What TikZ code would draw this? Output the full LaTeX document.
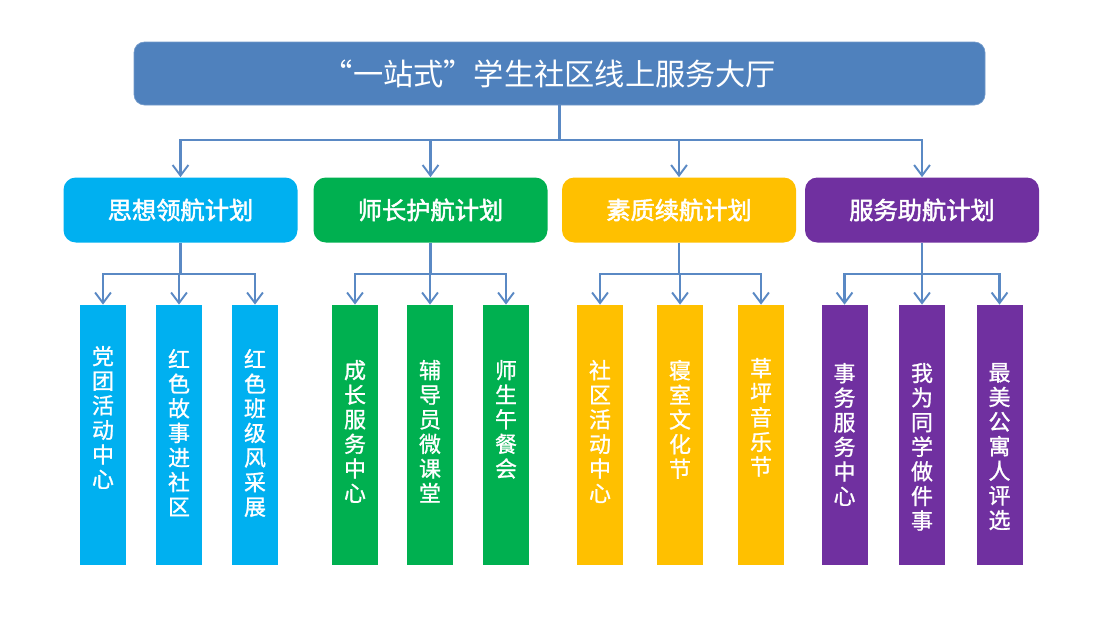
\documentclass[tikz,border=0pt]{standalone}
\usepackage{fontspec}
\newfontfamily\cjk[AutoFakeBold=2]{Noto Sans CJK SC}
\newfontfamily\cjkleaf[AutoFakeBold=1]{Noto Sans CJK SC}
\definecolor{hallBlue}{HTML}{4F81BD}
\definecolor{lineBlue}{HTML}{5A89C4}
\definecolor{planSky}{HTML}{00B0F0}
\definecolor{planGreen}{HTML}{00B050}
\definecolor{planGold}{HTML}{FFC000}
\definecolor{planPurple}{HTML}{7030A0}
\usepackage{tikz}
\usetikzlibrary{positioning,arrows.meta}

\begin{document}
\begin{tikzpicture}[
  hall/.style={fill=hallBlue, draw=hallBlue!80, rounded corners=6pt, minimum width=17.02cm, minimum height=1.26cm, text=white, font={\cjk\fontsize{17.2}{19}\selectfont}},
  plan/.style={rounded corners=7pt, minimum width=4.68cm, minimum height=1.3cm, text=white, font={\cjk\bfseries\fontsize{13.8}{15}\selectfont}},
  leaf/.style={minimum width=0.92cm, minimum height=5.2cm, inner sep=0pt},
  leaftxt/.style={text=white, align=center, inner sep=0pt, font={\cjkleaf\bfseries\fontsize{12.5}{14}\selectfont}},
  conn/.style={draw=lineBlue, line width=1.2pt, -{Straight Barb[length=6pt,width=9pt,line width=1.1pt]}}]
\useasboundingbox (0,0) rectangle (22.12,-12.44);
% hall
\node[hall] (hall) at (11.19,-1.47) {“一站式”学生社区线上服务大厅\hspace*{0.4cm}};
% plans
\node[plan, fill=planSky] (p1) at (3.61,-4.20) {思想领航计划};
\node[plan, fill=planGreen] (p2) at (8.61,-4.20) {师长护航计划};
\node[plan, fill=planGold] (p3) at (13.58,-4.20) {素质续航计划};
\node[plan, fill=planPurple] (p4) at (18.44,-4.20) {服务助航计划};
\draw[conn] (hall.south) -- ++(0,-0.70) -| (p1.north);
\draw[conn] (hall.south) -- ++(0,-0.70) -| (p2.north);
\draw[conn] (hall.south) -- ++(0,-0.70) -| (p3.north);
\draw[conn] (hall.south) -- ++(0,-0.70) -| (p4.north);
% leaves of p1
\node[leaf, fill=planSky] (l11) at (2.06,-8.70) {};
\node[leaf, fill=planSky] (l12) at (3.58,-8.70) {};
\node[leaf, fill=planSky] (l13) at (5.10,-8.70) {};
\node[leaftxt, below=0.82cm of l11.north] (t11) {党\\团\\活\\动\\中\\心};
\node[leaftxt, below=0.88cm of l12.north] (t12) {红\\色\\故\\事\\进\\社\\区};
\node[leaftxt, below=0.88cm of l13.north] (t13) {红\\色\\班\\级\\风\\采\\展};
% leaves of p2
\node[leaf, fill=planGreen] (l21) at (7.10,-8.70) {};
\node[leaf, fill=planGreen] (l22) at (8.60,-8.70) {};
\node[leaf, fill=planGreen] (l23) at (10.12,-8.70) {};
\node[leaftxt, below=1.1cm of l21.north] (t21) {成\\长\\服\\务\\中\\心};
\node[leaftxt, below=1.1cm of l22.north] (t22) {辅\\导\\员\\微\\课\\堂};
\node[leaftxt, below=1.1cm of l23.north] (t23) {师\\生\\午\\餐\\会};
% leaves of p3
\node[leaf, fill=planGold] (l31) at (12.00,-8.70) {};
\node[leaf, fill=planGold] (l32) at (13.60,-8.70) {};
\node[leaf, fill=planGold] (l33) at (15.22,-8.70) {};
\node[leaftxt, below=1.1cm of l31.north] (t31) {社\\区\\活\\动\\中\\心};
\node[leaftxt, below=1.1cm of l32.north] (t32) {寝\\室\\文\\化\\节};
\node[leaftxt, below=1.06cm of l33.north] (t33) {草\\坪\\音\\乐\\节};
% leaves of p4
\node[leaf, fill=planPurple] (l41) at (16.89,-8.70) {};
\node[leaf, fill=planPurple] (l42) at (18.44,-8.70) {};
\node[leaf, fill=planPurple] (l43) at (19.99,-8.70) {};
\node[leaftxt, below=1.16cm of l41.north] (t41) {事\\务\\服\\务\\中\\心};
\node[leaftxt, below=1.16cm of l42.north] (t42) {我\\为\\同\\学\\做\\件\\事};
\node[leaftxt, below=1.16cm of l43.north] (t43) {最\\美\\公\\寓\\人\\评\\选};
% plan to leaves
\draw[conn] (p1.south) -- ++(0,-0.63) -| (l11.north);
\draw[conn] (p1.south) -- ++(0,-0.63) -| (l12.north);
\draw[conn] (p1.south) -- ++(0,-0.63) -| (l13.north);
\draw[conn] (p2.south) -- ++(0,-0.63) -| (l21.north);
\draw[conn] (p2.south) -- ++(0,-0.63) -| (l22.north);
\draw[conn] (p2.south) -- ++(0,-0.63) -| (l23.north);
\draw[conn] (p3.south) -- ++(0,-0.63) -| (l31.north);
\draw[conn] (p3.south) -- ++(0,-0.63) -| (l32.north);
\draw[conn] (p3.south) -- ++(0,-0.63) -| (l33.north);
\draw[conn] (p4.south) -- ++(0,-0.63) -| (l41.north);
\draw[conn] (p4.south) -- ++(0,-0.63) -| (l42.north);
\draw[conn] (p4.south) -- ++(0,-0.63) -| (l43.north);
\end{tikzpicture}
\end{document}
